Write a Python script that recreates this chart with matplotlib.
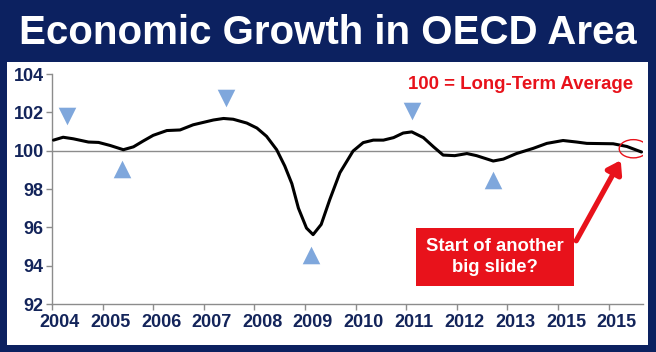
import matplotlib
matplotlib.use("Agg")
import matplotlib.pyplot as plt
from matplotlib.patches import Rectangle, Ellipse
import matplotlib.transforms as mtransforms

plt.rcParams['font.family'] = ['Liberation Sans', 'DejaVu Sans']

# ---- data ----
years = [2004.03, 2004.22, 2004.42, 2004.72, 2004.92, 2005.15, 2005.41, 2005.61,
         2005.80, 2006.00, 2006.27, 2006.53, 2006.79, 2007.19, 2007.39, 2007.58,
         2007.85, 2008.05, 2008.24, 2008.44, 2008.60, 2008.74, 2008.87, 2009.03,
         2009.16, 2009.32, 2009.49, 2009.69, 2009.95, 2010.15, 2010.35, 2010.55,
         2010.75, 2010.94, 2011.11, 2011.34, 2011.54, 2011.73, 2011.96, 2012.20,
         2012.39, 2012.72, 2012.92, 2013.18, 2013.51, 2013.78, 2014.10, 2014.37,
         2014.57, 2015.09, 2015.36, 2015.65]
values = [100.55, 100.70, 100.62, 100.45, 100.43, 100.27, 100.05, 100.20,
          100.50, 100.80, 101.05, 101.08, 101.35, 101.60, 101.68, 101.64,
          101.44, 101.18, 100.75, 100.05, 99.20, 98.28, 97.00, 95.96,
          95.62, 96.15, 97.45, 98.85, 99.98, 100.42, 100.55, 100.55,
          100.68, 100.92, 100.98, 100.68, 100.20, 99.77, 99.74, 99.85,
          99.74, 99.46, 99.56, 99.85, 100.12, 100.38, 100.53, 100.45,
          100.38, 100.36, 100.22, 99.93]

peaks_x = [2004.29, 2007.44, 2011.12]
peaks_y = [101.80, 102.75, 102.06]
troughs_x = [2005.38, 2009.12, 2012.71]
troughs_y = [99.05, 94.58, 98.45]

tick_pos = [2004, 2005, 2006, 2007, 2008, 2009, 2010, 2011, 2012, 2013, 2014, 2015]
tick_labels = ['2004', '2005', '2006', '2007', '2008', '2009', '2010', '2011',
               '2012', '2013', '2015', '2015']
yticks = [92, 94, 96, 98, 100, 102, 104]

NAVY = '#0c2160'
LABEL = '#13245a'
TRI = '#7fa7dc'
RED = '#e8121b'

fig = plt.figure(figsize=(6.56, 3.52), dpi=100)
fig.patch.set_facecolor(NAVY)

# white panel
W, H = 656, 352
fig.patches.append(Rectangle((7 / W, (H - 345) / H), (648 - 7) / W, (345 - 62) / H,
                             transform=fig.transFigure, facecolor='white',
                             edgecolor='none', zorder=-10))

fig.text(328 / W, 1 - 33 / H, 'Economic Growth in OECD Area', color='white',
         fontsize=29, fontweight='bold', ha='center', va='center')

ax = fig.add_axes([52 / W, (H - 304) / H, 591 / W, 230 / H])
ax.set_zorder(1)
ax.set_facecolor('none')
ax.set_xlim(2004, 2015.68)
ax.set_ylim(92, 104)

ax.axhline(100, color='#8c8c8c', lw=1.0, zorder=1)
ax.plot(years, values, color='black', lw=2.2, zorder=3, solid_capstyle='round')

ax.scatter(peaks_x, peaks_y, marker='v', s=160, color=TRI, zorder=2, linewidths=0)
ax.scatter(troughs_x, troughs_y, marker='^', s=160, color=TRI, zorder=2, linewidths=0)

for s in ['top', 'right']:
    ax.spines[s].set_visible(False)
for s in ['left', 'bottom']:
    ax.spines[s].set_color('#8c8c8c')
    ax.spines[s].set_linewidth(1.0)

ax.set_yticks(yticks)
ax.set_yticklabels([str(v) for v in yticks])
ax.set_xticks(tick_pos)
ax.set_xticklabels(tick_labels)
ax.tick_params(axis='both', colors='#8c8c8c', labelcolor=LABEL, length=4, width=1,
               labelsize=13)
ax.tick_params(axis='y', pad=2)
ax.tick_params(axis='x', pad=3)
for lab in ax.get_xticklabels() + ax.get_yticklabels():
    lab.set_fontweight('bold')
off = mtransforms.ScaledTranslation(8 / 100, 0, fig.dpi_scale_trans)
for lab in ax.get_xticklabels():
    lab.set_transform(lab.get_transform() + off)

# annotations
ax.text(2015.48, 103.43, '100 = Long-Term Average', color=RED, fontsize=13.4,
        fontweight='bold', ha='right', va='center')

ell = Ellipse((2015.49, 100.1), 0.56, 0.95, fill=False, edgecolor=RED, lw=1.0,
              zorder=4)
ax.add_patch(ell)

ax.annotate('', xy=(2015.24, 99.5), xytext=(2014.36, 95.3),
            arrowprops=dict(arrowstyle='-|>,head_length=0.75,head_width=0.5',
                            color=RED, lw=3.8, shrinkA=0, shrinkB=0), zorder=5)

ax.text(2012.75, 94.45, 'Start of another\nbig slide?', color='white', fontsize=13.3,
        fontweight='bold', ha='center', va='center', linespacing=1.3, zorder=6,
        bbox=dict(boxstyle='square,pad=0.55', facecolor=RED, edgecolor='none'))

fig.savefig('out.png', dpi=100, facecolor=fig.get_facecolor())
